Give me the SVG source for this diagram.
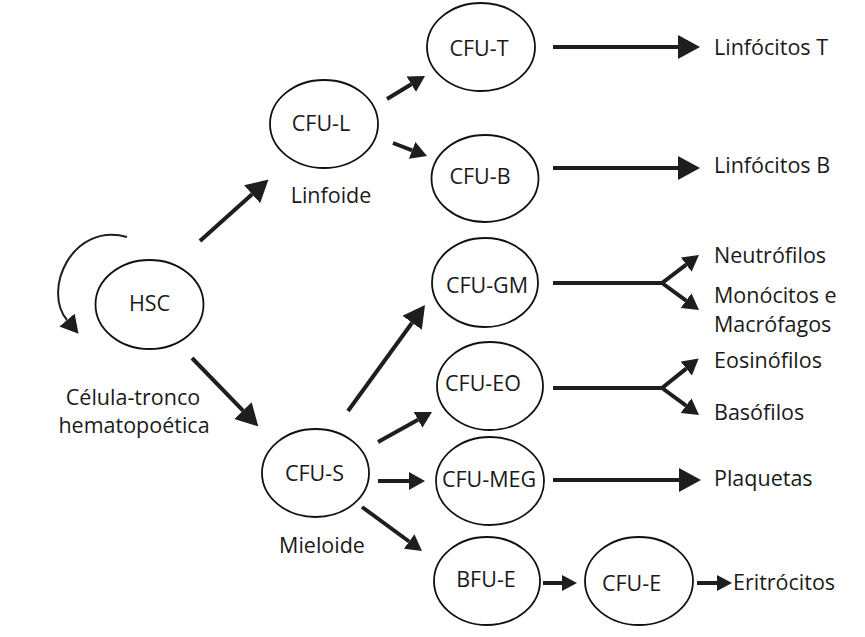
<svg xmlns="http://www.w3.org/2000/svg" width="865" height="637" viewBox="0 0 865 637">
<style>
.node ellipse{fill:#fff;stroke:#111;stroke-width:1.8}
text{font-family:"Open Sans","Liberation Sans",sans-serif;font-size:21.5px;fill:#1a1a1a}
.c{text-anchor:middle}
.a{fill:none;stroke:#1e1e1e;stroke-width:4}
.t{fill:none;stroke:#1e1e1e;stroke-width:2}
</style>
<defs>
<marker id="big" markerUnits="userSpaceOnUse" markerWidth="22" markerHeight="24" refX="0" refY="12" orient="auto"><path d="M0,0 L22,12 L0,24 z" fill="#1e1e1e"/></marker>
<marker id="med" markerUnits="userSpaceOnUse" markerWidth="16" markerHeight="18" refX="0" refY="9" orient="auto"><path d="M0,0 L16,9 L0,18 z" fill="#1e1e1e"/></marker>
<marker id="sm" markerUnits="userSpaceOnUse" markerWidth="15" markerHeight="16" refX="0" refY="8" orient="auto"><path d="M0,0 L15,8 L0,16 z" fill="#1e1e1e"/></marker>
<marker id="loop" markerUnits="userSpaceOnUse" markerWidth="18" markerHeight="20" refX="0" refY="10" orient="auto"><path d="M0,0 L18,10 L0,20 z" fill="#1e1e1e"/></marker>
</defs>
<rect width="865" height="637" fill="#fff"/>
<g id="connectors">
<path class="t" d="M127,237 C72,222 42,290 67,320" marker-end="url(#loop)"/>
<line class="a" x1="200" y1="241" x2="252.1" y2="194.3" marker-end="url(#big)"/>
<line class="a" x1="192" y1="358" x2="243" y2="410.6" marker-end="url(#big)"/>
<line class="a" x1="387" y1="99" x2="411.3" y2="84.3" marker-end="url(#med)"/>
<line class="a" x1="393" y1="143" x2="412.1" y2="150.3" marker-end="url(#med)"/>
<line class="a" x1="553" y1="47" x2="678" y2="47" marker-end="url(#big)"/>
<line class="a" x1="553" y1="168" x2="678" y2="168" marker-end="url(#big)"/>
<path class="a" d="M553,283 H662 L686.2,264.6" marker-end="url(#med)"/>
<path class="a" d="M662,283 L686.1,300.6" marker-end="url(#med)"/>
<path class="a" d="M553,388 H662 L686.2,368.6" marker-end="url(#med)"/>
<path class="a" d="M662,388 L686.1,405.6" marker-end="url(#med)"/>
<line class="a" x1="348" y1="411" x2="412.1" y2="322.8" marker-end="url(#big)"/>
<line class="a" x1="378" y1="442" x2="418" y2="419.8" marker-end="url(#med)"/>
<line class="a" x1="378" y1="481" x2="409" y2="481" marker-end="url(#med)"/>
<line class="a" x1="362" y1="507" x2="409.1" y2="541.5" marker-end="url(#med)"/>
<line class="a" x1="553" y1="480" x2="679" y2="480" marker-end="url(#big)"/>
<line class="a" x1="543" y1="583" x2="562" y2="583" marker-end="url(#sm)"/>
<line class="a" x1="697" y1="583" x2="717" y2="583" marker-end="url(#sm)"/>
</g>
<g id="HSC" class="node"><ellipse cx="149.5" cy="304.5" rx="54" ry="44.5"/><text class="c" x="149.5" y="311">HSC</text></g>
<g id="CFU-L" class="node"><ellipse cx="324" cy="124" rx="54" ry="44"/><text class="c" x="321" y="131">CFU-L</text></g>
<g id="CFU-T" class="node"><ellipse cx="481" cy="47" rx="54" ry="44"/><text class="c" x="479" y="56">CFU-T</text></g>
<g id="CFU-B" class="node"><ellipse cx="485" cy="178.5" rx="53.5" ry="43.5"/><text class="c" x="480" y="184">CFU-B</text></g>
<g id="CFU-GM" class="node"><ellipse cx="485" cy="282.5" rx="53" ry="44.5"/><text class="c" x="487" y="293">CFU-GM</text></g>
<g id="CFU-EO" class="node"><ellipse cx="490" cy="386" rx="53" ry="44"/><text class="c" x="483" y="391">CFU-EO</text></g>
<g id="CFU-S" class="node"><ellipse cx="315.5" cy="473" rx="53.5" ry="44"/><text class="c" x="314.5" y="481">CFU-S</text></g>
<g id="CFU-MEG" class="node"><ellipse cx="490" cy="481" rx="54" ry="44"/><text class="c" x="489" y="487">CFU-MEG</text></g>
<g id="BFU-E" class="node"><ellipse cx="487" cy="581" rx="53" ry="44"/><text class="c" x="486" y="587">BFU-E</text></g>
<g id="CFU-E" class="node"><ellipse cx="639" cy="581" rx="54" ry="44"/><text class="c" x="631.5" y="591">CFU-E</text></g>
<g id="labels">
<text class="c" x="133" y="405">Célula-tronco</text>
<text class="c" x="134" y="433">hematopoética</text>
<text class="c" x="331" y="203">Linfoide</text>
<text class="c" x="322" y="553">Mieloide</text>
<text x="714" y="55">Linfócitos T</text>
<text x="714" y="173">Linfócitos B</text>
<text x="714" y="263">Neutrófilos</text>
<text x="714" y="303">Monócitos e</text>
<text x="714" y="332">Macrófagos</text>
<text x="714" y="368">Eosinófilos</text>
<text x="714" y="420">Basófilos</text>
<text x="714" y="486">Plaquetas</text>
<text x="733" y="590">Eritrócitos</text>
</g>
</svg>
